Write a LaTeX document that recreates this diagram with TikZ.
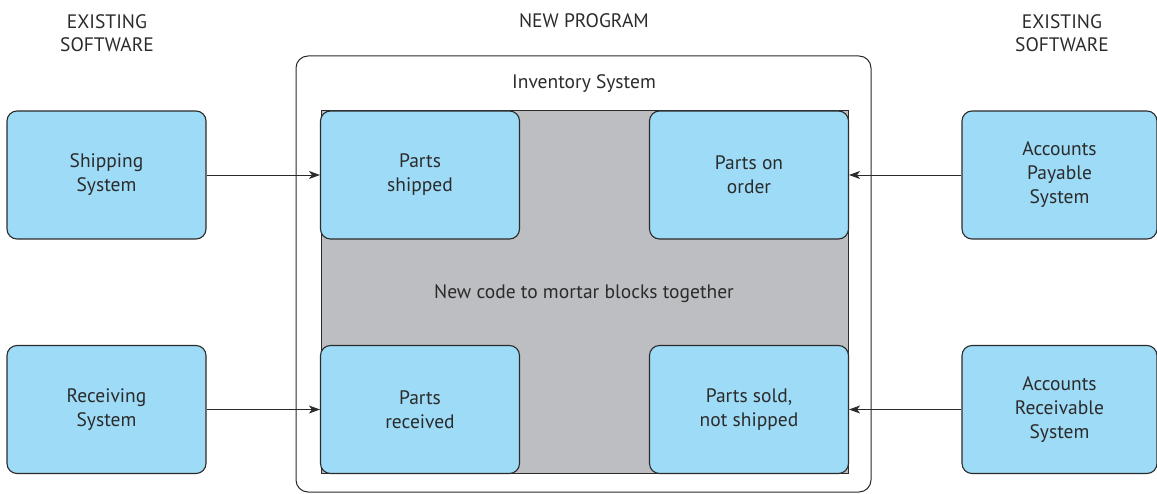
\documentclass[tikz,border=0pt]{standalone}
\usepackage{fontspec}
\setmainfont{PT Sans}
\usetikzlibrary{arrows.meta}
\definecolor{boxblue}{HTML}{9EDBF7}
\definecolor{mortar}{HTML}{BDBEC2}
\definecolor{ink}{HTML}{2B2B2B}
\tikzset{
  blk/.style={draw=ink, line width=1.1pt, fill=boxblue, rounded corners=10pt,
    minimum width=199pt, minimum height=128pt, inner sep=0pt, align=center,
    text=ink, font=\fontsize{19.5}{24}\selectfont},
  lbl/.style={text=ink, align=center, font=\fontsize{19.5}{23}\selectfont},
  feed/.style={-{Stealth[length=11pt,width=8pt,inset=3pt]}, line width=0.9pt, draw=ink}
}
\begin{document}
\begin{tikzpicture}[x=1pt,y=-1pt]
\useasboundingbox (0,0) rectangle (1157,494);
% program boundary and mortar area
\draw[ink, line width=1pt, rounded corners=12pt] (296,56) rectangle (871,492);
\draw[ink, line width=1pt, fill=mortar] (321,111) rectangle (848,473);
% headings
\node[lbl] (hl) at (107,33) {EXISTING\\SOFTWARE};
\node[lbl] (hm) at (584,21) {NEW PROGRAM};
\node[lbl] (hr) at (1062,33) {EXISTING\\SOFTWARE};
\node[lbl] (inv) at (584,84) {Inventory System};
\node[lbl] (mort) at (584,294) {New code to mortar blocks together};
% existing systems
\node[blk] (ship) at (106.5,175) {Shipping\\System};
\node[blk] (recv) at (106.5,409.5) {Receiving\\System};
\node[blk, minimum width=195pt] (pay) at (1059.5,175) {Accounts\\Payable\\System};
\node[blk, minimum width=195pt] (rec) at (1059.5,409.5) {Accounts\\Receivable\\System};
% inventory blocks
\node[blk] (pship) at (420,175) {Parts\\shipped};
\node[blk] (porder) at (749,175) {Parts on\\order};
\node[blk] (precv) at (420,409.5) {Parts\\received};
\node[blk] (psold) at (749,409.5) {Parts sold,\\not shipped};
% interfaces
\draw[feed] (ship) -- (pship);
\draw[feed] (recv) -- (precv);
\draw[feed] (pay) -- (porder);
\draw[feed] (rec) -- (psold);
\end{tikzpicture}
\end{document}
